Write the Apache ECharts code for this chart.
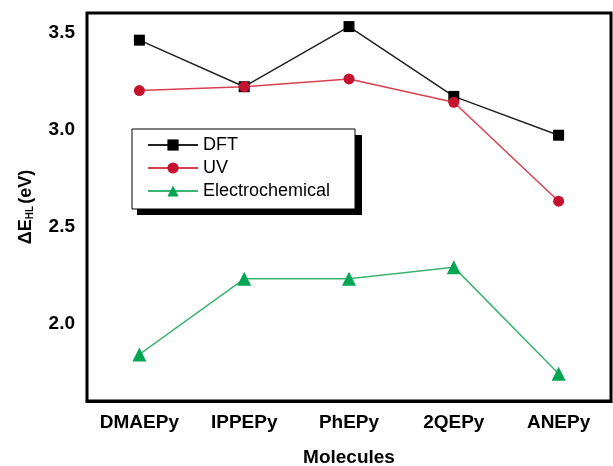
<!DOCTYPE html>
<html>
<head>
<meta charset="utf-8">
<script src="https://cdn.jsdelivr.net/npm/echarts@6/dist/echarts.min.js"></script>
<style>
  html, body { margin: 0; padding: 0; background: #fff; }
  #chart { width: 613px; height: 466px; }
</style>
</head>
<body>
<div id="chart"></div>
<script>
// molecules on the x axis
var molecules = ['DMAEPy', 'IPPEPy', 'PhEPy', '2QEPy', 'ANEPy'];
// HOMO-LUMO gaps (eV)
var dftGap  = [3.46, 3.22, 3.53, 3.17, 2.97];
var uvGap   = [3.20, 3.22, 3.26, 3.14, 2.63];
var echemGap = [1.84, 2.23, 2.23, 2.29, 1.74];
var yTicks = [2.0, 2.5, 3.0, 3.5];

var font = 'Liberation Sans, Arial, sans-serif';

var chart = echarts.init(document.getElementById('chart'));
chart.setOption({
    backgroundColor: '#fff',
    animation: false,
    grid: {
        left: 87, top: 13, right: 2, bottom: 65,
        outerBoundsMode: 'none',
        containLabel: false,
        show: true,
        borderColor: '#000',
        borderWidth: 3
    },
    // legend frame with its drop shadow
    graphic: [
        { type: 'rect', z: 9, shape: { x: 137, y: 135, width: 225, height: 80 }, style: { fill: '#000' } },
        { type: 'rect', z: 9, shape: { x: 132, y: 129, width: 223, height: 80 }, style: { fill: '#fff', stroke: '#000', lineWidth: 1 } }
    ],
    legend: {
        orient: 'vertical',
        left: 132, top: 129,
        z: 10,
        padding: [7, 10, 7, 15],
        itemGap: 5,
        itemWidth: 50,
        itemHeight: 14,
        textStyle: { fontFamily: font, fontSize: 18, color: '#000' },
        data: ['DFT', 'UV', 'Electrochemical']
    },
    xAxis: {
        type: 'category',
        data: molecules,
        boundaryGap: true,
        name: 'Molecules',
        nameLocation: 'middle',
        nameGap: 47,
        nameTextStyle: { fontFamily: font, fontSize: 19, fontWeight: 'bold', color: '#000' },
        axisLine: { lineStyle: { color: '#000', width: 3 } },
        axisTick: { alignWithLabel: true, interval: 0, length: 7, lineStyle: { color: '#000', width: 3 } },
        axisLabel: { interval: 0, margin: 12, fontFamily: font, fontSize: 19, fontWeight: 'bold', color: '#000' },
        splitLine: { show: false }
    },
    yAxis: {
        type: 'value',
        min: 1.6,
        max: 3.6,
        name: '{a|ΔE}{s|HL}{a|(eV)}',
        nameLocation: 'middle',
        nameGap: 52,
        nameTextStyle: {
            rich: {
                a: { fontFamily: font, fontSize: 18, fontWeight: 'bold', color: '#000' },
                s: { fontFamily: font, fontSize: 10, fontWeight: 'bold', color: '#000', verticalAlign: 'bottom', padding: [8, 2, 0, 0] }
            }
        },
        axisLine: { lineStyle: { color: '#000', width: 3 } },
        axisTick: { customValues: yTicks, length: 6, lineStyle: { color: '#000', width: 3 } },
        axisLabel: {
            customValues: yTicks,
            margin: 12,
            fontFamily: font, fontSize: 19, fontWeight: 'bold', color: '#000',
            formatter: function (v) { return v.toFixed(1); }
        },
        splitLine: { show: false }
    },
    series: [
        {
            name: 'DFT',
            type: 'line',
            data: dftGap,
            symbol: 'rect',
            symbolSize: 11,
            itemStyle: { color: '#000' },
            lineStyle: { color: '#222', width: 1.5 },
            z: 3
        },
        {
            name: 'UV',
            type: 'line',
            data: uvGap,
            symbol: 'circle',
            symbolSize: 11,
            itemStyle: { color: '#c4122f' },
            lineStyle: { color: '#d9404f', width: 1.5 },
            z: 4
        },
        {
            name: 'Electrochemical',
            type: 'line',
            data: echemGap,
            symbol: 'triangle',
            symbolSize: 14,
            itemStyle: { color: '#00a651' },
            lineStyle: { color: '#3cb371', width: 1.5 },
            z: 2
        }
    ]
});
</script>
</body>
</html>
